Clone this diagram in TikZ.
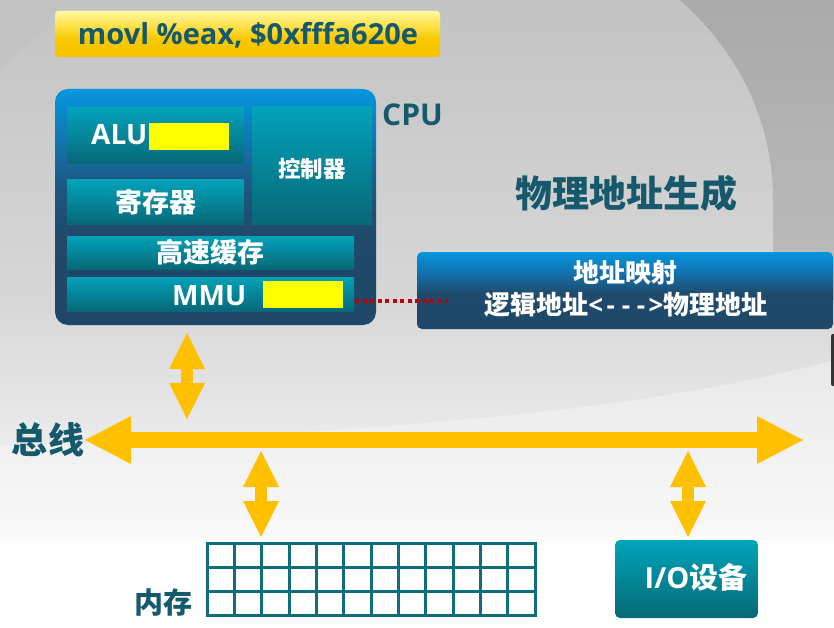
\documentclass[tikz,border=0pt]{standalone}
\usepackage{fontspec}
\usetikzlibrary{arrows.meta,calc}

\newfontfamily\cjkfam{Noto Sans CJK SC}
\newfontfamily\latfam{Open Sans}
\newcommand\HZ{\cjkfam\bfseries}
\newcommand\LT{\latfam\bfseries}
\newcommand\fsz[1]{\fontsize{#1}{#1}\selectfont}

\definecolor{inktext}{RGB}{22,89,108}
\definecolor{tealtop}{RGB}{2,162,186}
\definecolor{tealbot}{RGB}{8,104,120}
\definecolor{iotop}{RGB}{0,164,186}
\definecolor{iobot}{RGB}{6,106,118}
\definecolor{busgold}{RGB}{255,192,0}
\definecolor{gridteal}{RGB}{14,110,124}
\definecolor{linkred}{RGB}{192,0,0}
\definecolor{markyellow}{RGB}{255,255,0}
\definecolor{edgegray}{RGB}{52,52,52}

% page backdrop: grey at the top, white at the bottom
\pgfdeclareverticalshading{backdrop}{100bp}{%
  rgb(0bp)=(1,1,1); rgb(25bp)=(1,1,1); rgb(31.8bp)=(1,1,1);
  rgb(32.4bp)=(0.965,0.965,0.965); rgb(39.2bp)=(0.925,0.925,0.925);
  rgb(51bp)=(0.843,0.843,0.843); rgb(75bp)=(0.765,0.765,0.765);
  rgb(100bp)=(0.765,0.765,0.765)}
% CPU body: bright blue on top, dark slate below
\pgfdeclareverticalshading{deepblue}{100bp}{%
  rgb(0bp)=(0.122,0.282,0.408); rgb(25bp)=(0.122,0.282,0.408);
  rgb(45bp)=(0.122,0.29,0.42); rgb(55bp)=(0.11,0.35,0.52);
  rgb(65bp)=(0.07,0.47,0.71); rgb(75bp)=(0.016,0.588,0.871);
  rgb(100bp)=(0.016,0.588,0.871)}
% address mapping bar
\pgfdeclareverticalshading{mapshade}{100bp}{%
  rgb(0bp)=(0.122,0.282,0.408); rgb(25bp)=(0.122,0.282,0.408);
  rgb(48bp)=(0.122,0.29,0.42); rgb(62bp)=(0.07,0.45,0.69);
  rgb(75bp)=(0.016,0.588,0.871); rgb(100bp)=(0.016,0.588,0.871)}
% instruction bar
\pgfdeclareverticalshading{goldbar}{100bp}{%
  rgb(0bp)=(0.965,0.76,0); rgb(25bp)=(0.965,0.76,0);
  rgb(45bp)=(0.975,0.785,0); rgb(62bp)=(1,0.9,0.35);
  rgb(75bp)=(1,0.97,0.63); rgb(100bp)=(1,0.97,0.63)}
% dark corner in the upper right
\pgfdeclareverticalshading{darkcorner}{100bp}{%
  rgb(0bp)=(0.74,0.74,0.74); rgb(25bp)=(0.74,0.74,0.74);
  rgb(75bp)=(0.665,0.665,0.665); rgb(100bp)=(0.665,0.665,0.665)}

\begin{document}
\begin{tikzpicture}[x=1pt,y=-1pt,
  box/.style={inner sep=0pt, outer sep=0pt, anchor=north west, draw=none},
  tealbox/.style={box, top color=tealtop, bottom color=tealbot},
  hilite/.style={box, fill=markyellow},
  whitetxt/.style={text=white, inner sep=0pt},
  inktxt/.style={text=inktext, inner sep=0pt},
  busarrow/.style={draw=busgold, line width=12pt,
    arrows={Triangle[width=36pt,length=36pt,line width=0pt]-Triangle[width=36pt,length=36pt,line width=0pt]}},
  busline/.style={draw=busgold, line width=16pt,
    arrows={Triangle[width=48pt,length=46pt,line width=0pt]-Triangle[width=48pt,length=46pt,line width=0pt]}},
  link/.style={draw=linkred, line width=4pt, dash pattern=on 4pt off 3.5pt},
  gridline/.style={draw=gridteal, line width=3pt},
]
\useasboundingbox (0,0) rectangle (834,628);

% ---- backdrop ----
\shade[shading=backdrop] (0,0) rectangle (834,628);
\fill[black!24!white, opacity=0.6] (0,0) -- (67,0) -- (0,73) -- cycle;
\shade[shading=darkcorner] (680,0) .. controls (738,52) and (773,120) .. (773,200)
  -- (773,300) -- (834,300) -- (834,0) -- cycle;
\fill[white, opacity=0.3] (834,360) .. controls (650,410) and (400,432) .. (0,446)
  -- (0,628) -- (834,628) -- cycle;
\fill[edgegray, rounded corners=2pt] (831,334) rectangle (842,386);

% ---- instruction ----
\node[box, shading=goldbar, rounded corners=3pt, minimum width=385pt, minimum height=46pt] (instr) at (55,11) {};
\node[inktxt, font=\LT\fsz{29}, anchor=base] (instrtxt) at (248,45) {movl \%eax, \$0xfffa620e};

% ---- CPU ----
\node[box, shading=deepblue, rounded corners=13pt, minimum width=321pt, minimum height=236pt] (cpu) at (55,89) {};
\node[inktxt, font=\LT\fsz{30}, anchor=base west] (cpulbl) at (382,126) {CPU};

\node[tealbox, minimum width=177pt, minimum height=56pt] (alu) at (67,108) {};
\node[whitetxt, font=\LT\fsz{28}, anchor=base west] (alulbl) at (91,145) {ALU};
\node[hilite, minimum width=80pt, minimum height=27pt] (aluhl) at (149,123) {};

\node[tealbox, minimum width=177pt, minimum height=44pt, text=white, font=\HZ\fsz{27}] (regs) at (67,180) {寄存器};
\node[tealbox, minimum width=120pt, minimum height=117pt] (ctrl) at (252,107) {};
\node[whitetxt, font=\HZ\fsz{22.5}] (ctrllbl) at (312,169) {控制器};
\node[tealbox, minimum width=287pt, minimum height=33pt, text=white, font=\HZ\fsz{27}] (cache) at (67,236) {高速缓存};
\node[tealbox, minimum width=287pt, minimum height=34pt] (mmu) at (67,277) {};
\node[whitetxt, font=\LT\fsz{28}, anchor=base west] (mmulbl) at (172,305) {MMU};
\node[hilite, minimum width=80pt, minimum height=27pt] (mmuhl) at (263,281) {};

% ---- address mapping ----
\node[inktxt, font=\HZ\fsz{37}] (title) at (626,193) {物理地址生成};
\node[box, shading=mapshade, rounded corners=5pt, minimum width=416pt, minimum height=77pt] (maps) at (417,252) {};
\node[whitetxt, font=\HZ\fsz{26}] (mapt1) at (625,273) {地址映射};
\node[whitetxt, font=\HZ\fsz{26}] (mapt2) at (626,305) {逻辑地址{\LT\makebox[0.58em]{<}\makebox[0.58em]{-}\makebox[0.58em]{-}\makebox[0.58em]{-}\makebox[0.58em]{>}}物理地址};

\coordinate (linkA) at (355,301);
\coordinate (linkB) at (448,301);
\draw[link] (linkA) -- (linkB);

% ---- bus ----
\node[inktxt, font=\HZ\fsz{36}] (buslbl) at (48,440) {总线};
\coordinate (busW) at (85,440);
\coordinate (busE) at (803,440);
\draw[busline] (busW) -- (busE);

\coordinate (cpuTop) at (187,333);
\coordinate (cpuBot) at (187,419);
\draw[busarrow] (cpuTop) -- (cpuBot);

\coordinate (memTop) at (261,451);
\coordinate (memBot) at (261,537);
\draw[busarrow] (memTop) -- (memBot);

\coordinate (ioTop) at (688,451);
\coordinate (ioBot) at (688,537);
\draw[busarrow] (ioTop) -- (ioBot);

% ---- memory ----
\node[box, fill=white, minimum width=328pt, minimum height=72pt] (mem) at (207,543) {};
\foreach \k in {1,...,11}
  \draw[gridline] ($(mem.north west)+(\k*27.333,0)$) -- ++(0,72);
\foreach \k in {1,2}
  \draw[gridline] ($(mem.north west)+(0,\k*24)$) -- ++(328,0);
\draw[gridline] (mem.north west) rectangle (mem.south east);
\node[inktxt, font=\HZ\fsz{29}] (memlbl) at (163,602) {内存};

% ---- I/O ----
\node[box, top color=iotop, bottom color=iobot, rounded corners=5pt, minimum width=143pt, minimum height=78pt] (io) at (615,540) {};
\node[whitetxt, font=\fsz{29}] (iotxt) at (696,577) {{\LT I/O}{\HZ 设备}};
\end{tikzpicture}
\end{document}
